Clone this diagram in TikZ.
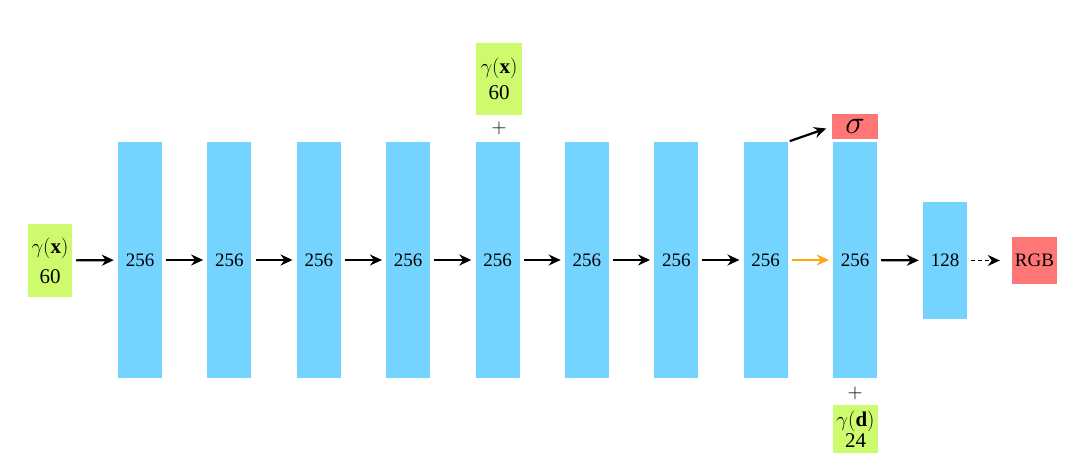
\documentclass[tikz,border=0pt]{standalone}
\usepackage{amsmath}
\usepackage{fontspec}
\setmainfont{Liberation Serif}
\usepackage{tikz}
\usetikzlibrary{arrows.meta}
\definecolor{layerblue}{RGB}{116,212,255}
\definecolor{inputgreen}{RGB}{206,250,110}
\definecolor{outred}{RGB}{255,118,118}
\definecolor{skiporange}{RGB}{255,165,20}
\tikzset{
  layer/.style={fill=layerblue, minimum width=44pt, inner sep=0pt, font=\fontsize{19}{21}\selectfont},
  inbox/.style={fill=inputgreen, inner sep=0pt, align=center, font=\fontsize{21}{22}\selectfont},
  outbox/.style={fill=outred, inner sep=0pt, font=\fontsize{19}{21}\selectfont},
  flow/.style={-{Stealth[length=12pt,width=11pt]}, line width=2.2pt, shorten <=4pt, shorten >=4pt},
}
\begin{document}
\begin{tikzpicture}[x=1pt,y=-1pt]
  \useasboundingbox (0,0) rectangle (1092,468);
  % input and hidden layers
  \node[inbox, minimum width=44pt, minimum height=73pt] (inx) at (50,260.5) {$\gamma(\mathbf{x})$\\[8pt]60};
  \foreach \i in {1,...,9}
    \node[layer, minimum height=236pt] (l\i) at ({140+89.375*(\i-1)},260) {256};
  \node[layer, minimum height=117pt] (l10) at (945,260.5) {128};
  \node[outbox, minimum width=45pt, minimum height=47pt] (rgb) at (1034.5,260.5) {RGB};
  \node[outbox, minimum width=46pt, minimum height=25pt] (sigma) at (855,126.5) {\scalebox{1.9}{$\sigma$}};
  % skip input and view direction
  \node[inbox, minimum width=46pt, minimum height=72pt] (skip) at (499,79) {$\gamma(\mathbf{x})$\\[4pt]60};
  \node[font=\fontsize{22}{22}\selectfont] (plustop) at (499,128) {$+$};
  \node[font=\fontsize{22}{22}\selectfont] (plusbot) at (855,393) {$+$};
  \node[inbox, minimum width=45pt, minimum height=48pt] (dir) at (855.5,429) {$\gamma(\mathbf{d})$\\[-1pt]24};
  % connections
  \draw[flow] (inx) -- (l1);
  \foreach \i/\j in {1/2,2/3,3/4,4/5,5/6,6/7,7/8}
    \draw[flow] (l\i) -- (l\j);
  \draw[flow, skiporange] (l8) -- (l9);
  \draw[flow] (l9) -- (l10);
  \draw[flow, line width=1.8pt, shorten >=12pt, dash pattern=on 4pt off 3pt] (l10) -- (rgb);
  \draw[flow, shorten <=2pt, shorten >=6pt] (l8.north east) -- (sigma.west);
\end{tikzpicture}
\end{document}
